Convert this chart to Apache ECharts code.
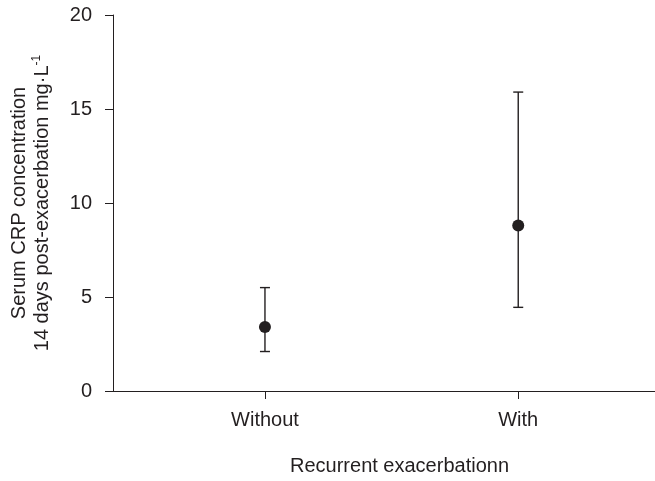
<!DOCTYPE html>
<html>
<head>
<meta charset="utf-8">
<script src="https://cdn.jsdelivr.net/npm/echarts@6/dist/echarts.min.js"></script>
<style>
  html, body { margin: 0; padding: 0; background: #fff; }
  #chart { width: 655px; height: 481px; }
</style>
</head>
<body>
<div id="chart"></div>
<script>
// groups on the x axis (placed at positions 1 and 2)
const categories = ['Without', 'With'];
const positions = [1, 2];
// serum CRP mean and error bar limits, mg·L-1
const means = [3.4, 8.8];
const lower = [2.1, 4.45];
const upper = [5.5, 15.9];

const ink = '#231f20';
const font = 'Liberation Sans, Arial, sans-serif';

const chart = echarts.init(document.getElementById('chart'));

const pointData = positions.map((p, i) => [p, means[i]]);
const barData = positions.map((p, i) => [p, lower[i], upper[i]]);

const option = {
  animation: false,
  grid: { left: 112, right: 0, top: 15, bottom: 89 },
  xAxis: {
    type: 'value',
    min: 0.4,
    max: 2.54,
    splitLine: { show: false },
    axisLine: { lineStyle: { color: ink, width: 1 } },
    axisTick: { show: true, customValues: positions, length: 8, lineStyle: { color: ink } },
    axisLabel: {
      customValues: positions,
      formatter: v => categories[positions.indexOf(v)],
      color: ink, fontSize: 20, fontFamily: font, margin: 19
    },
    name: 'Recurrent exacerbationn',
    nameLocation: 'middle',
    nameGap: 65,
    nameTextStyle: { color: ink, fontSize: 20, fontFamily: font, padding: [0, 0, 0, 31] }
  },
  yAxis: {
    type: 'value',
    min: 0,
    max: 20,
    interval: 5,
    splitLine: { show: false },
    axisLine: { show: true, lineStyle: { color: ink, width: 1 } },
    axisTick: { show: true, length: 8, lineStyle: { color: ink } },
    axisLabel: { color: ink, fontSize: 20, fontFamily: font, margin: 21 },
    name: 'Serum CRP concentration\n14 days post-exacerbation mg·L{sup|-1}',
    nameLocation: 'middle',
    nameGap: 59,
    nameTextStyle: {
      color: ink, fontSize: 20, fontFamily: font, lineHeight: 23,
      rich: {
        sup: { fontSize: 12, fontFamily: font, color: ink, verticalAlign: 'top', lineHeight: 23, padding: [0, 0, 8, 0] }
      }
    }
  },
  series: [
    {
      type: 'custom',
      data: barData,
      renderItem: (params, api) => {
        const x = api.value(0);
        const lo = api.coord([x, api.value(1)]);
        const hi = api.coord([x, api.value(2)]);
        const half = 5;
        const style = { stroke: ink, lineWidth: 1.4 };
        return {
          type: 'group',
          children: [
            { type: 'line', shape: { x1: lo[0], y1: lo[1], x2: hi[0], y2: hi[1] }, style },
            { type: 'line', shape: { x1: hi[0] - half, y1: hi[1], x2: hi[0] + half, y2: hi[1] }, style },
            { type: 'line', shape: { x1: lo[0] - half, y1: lo[1], x2: lo[0] + half, y2: lo[1] }, style }
          ]
        };
      },
      z: 2
    },
    {
      type: 'scatter',
      data: pointData,
      symbol: 'circle',
      symbolSize: 12,
      itemStyle: { color: ink, opacity: 1 },
      z: 3
    }
  ]
};

chart.setOption(option);
</script>
</body>
</html>
